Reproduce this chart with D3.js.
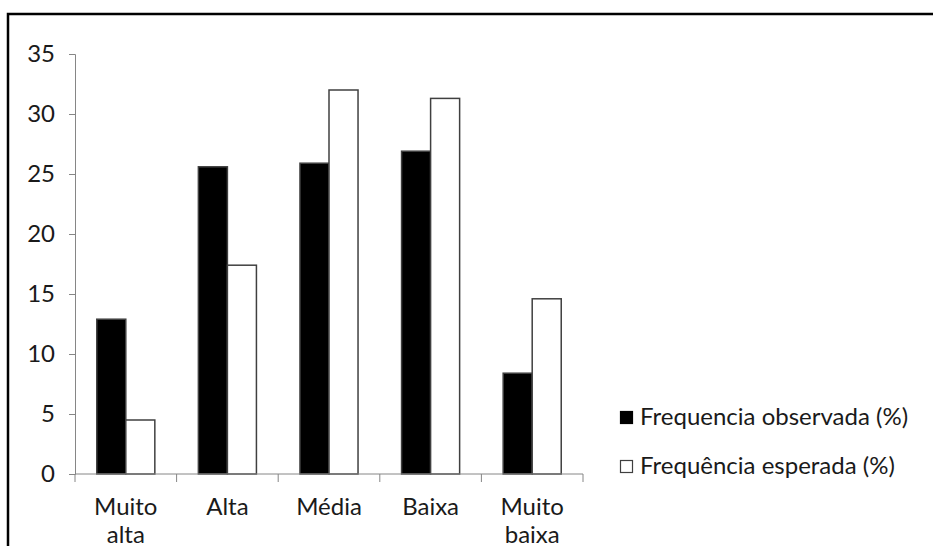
<!DOCTYPE html>
<html>
<head>
<meta charset="utf-8">
<script src="https://cdn.jsdelivr.net/npm/d3@7"></script>
<style>
  html, body { margin: 0; padding: 0; background: #fff; }
  svg { display: block; }
  text { font-family: Lato, "Open Sans", sans-serif; fill: #1a1a1a; }
</style>
</head>
<body>
<svg id="chart" width="933" height="546"></svg>
<script>
// Categories (label lines) and the two series, in percent
const categories = ["Muito alta", "Alta", "Média", "Baixa", "Muito baixa"];
const categoryLines = [["Muito", "alta"], ["Alta"], ["Média"], ["Baixa"], ["Muito", "baixa"]];
const observed = [12.9, 25.6, 25.9, 26.9, 8.4];
const expected = [4.5, 17.4, 32.0, 31.3, 14.6];
const seriesNames = ["Frequencia observada (%)", "Frequência esperada (%)"];
const yTicks = [0, 5, 10, 15, 20, 25, 30, 35];

const svg = d3.select("#chart");
const W = 933, H = 546;
const plot = { left: 75, right: 583, top: 54, bottom: 474 };
const fontSize = 24;

// Outer frame (right and bottom edges fall outside the canvas)
svg.append("rect")
  .attr("x", 8).attr("y", 14)
  .attr("width", W + 10).attr("height", H + 10)
  .attr("fill", "none").attr("stroke", "#000").attr("stroke-width", 2.5);

const x = d3.scaleBand().domain(categories).range([plot.left, plot.right]).padding(0);
const xs = d3.scaleBand().domain([0, 1])
  .range([0, x.bandwidth()]).paddingInner(0).paddingOuter(0.75);
const y = d3.scaleLinear().domain([0, 35]).range([plot.bottom, plot.top]);

// Y axis
const yAxis = svg.append("g")
  .attr("transform", `translate(${plot.left},0)`)
  .call(d3.axisLeft(y).tickValues(yTicks).tickSize(6).tickPadding(14).tickFormat(d3.format("d")));
yAxis.select(".domain").attr("stroke", "#868686");
yAxis.selectAll(".tick line").attr("stroke", "#868686");
yAxis.selectAll(".tick text")
  .attr("font-size", fontSize).attr("font-family", "Lato, sans-serif").attr("fill", "#1a1a1a");

// Bars
const data = categories.map((c, i) => ({ c, vals: [observed[i], expected[i]] }));
const groups = svg.append("g").selectAll("g").data(data).join("g")
  .attr("transform", d => `translate(${x(d.c)},0)`);
groups.selectAll("rect").data(d => d.vals.map((v, k) => ({ v, k }))).join("rect")
  .attr("x", d => xs(d.k))
  .attr("width", xs.bandwidth())
  .attr("y", d => y(d.v))
  .attr("height", d => y(0) - y(d.v))
  .attr("fill", d => d.k === 0 ? "#000" : "#fff")
  .attr("stroke", "#404040")
  .attr("stroke-width", 1.5);

// X axis with ticks at category boundaries
const xAxisG = svg.append("g");
xAxisG.append("line")
  .attr("x1", plot.left).attr("x2", plot.right)
  .attr("y1", plot.bottom).attr("y2", plot.bottom)
  .attr("stroke", "#868686");
const bounds = categories.map(c => x(c)).concat([x(categories[categories.length - 1]) + x.bandwidth()]);
xAxisG.selectAll("line.tk").data(bounds).join("line")
  .attr("class", "tk")
  .attr("x1", d => d).attr("x2", d => d)
  .attr("y1", plot.bottom).attr("y2", plot.bottom + 8)
  .attr("stroke", "#868686");

// Category labels (wrapped onto two lines where needed)
const labels = svg.append("g").selectAll("text").data(categories).join("text")
  .attr("x", d => x(d) + x.bandwidth() / 2)
  .attr("y", 515)
  .attr("text-anchor", "middle")
  .attr("font-size", fontSize);
labels.each(function (d, i) {
  const t = d3.select(this);
  categoryLines[i].forEach((line, j) => {
    t.append("tspan")
      .attr("x", x(d) + x.bandwidth() / 2)
      .attr("dy", j === 0 ? 0 : 28)
      .text(line);
  });
});

// Legend
const legend = svg.append("g");
seriesNames.forEach((name, i) => {
  const ly = 418 + i * 49;
  legend.append("rect")
    .attr("x", 620.5).attr("y", ly - 6.5)
    .attr("width", 12).attr("height", 12)
    .attr("fill", i === 0 ? "#000" : "#fff")
    .attr("stroke", i === 0 ? "#000" : "#404040")
    .attr("stroke-width", 1.2);
  legend.append("text")
    .attr("x", 640).attr("y", ly + 7)
    .attr("font-size", fontSize)
    .text(name);
});
</script>
</body>
</html>
